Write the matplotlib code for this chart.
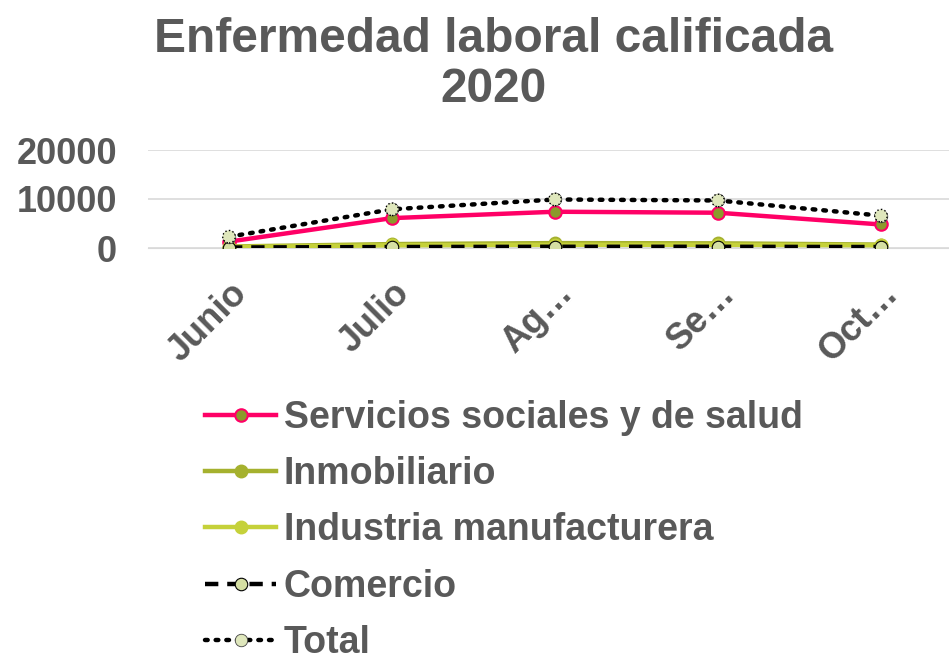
import matplotlib.pyplot as plt

plt.rcParams['font.family'] = ['Liberation Sans', 'DejaVu Sans']

meses = ['Junio', 'Julio', 'Ag…', 'Se…', 'Oct…']
servicios = [1300, 6100, 7400, 7200, 4800]
inmobiliario = [300, 800, 1000, 950, 700]
industria = [200, 550, 650, 650, 550]
comercio = [100, 200, 250, 250, 200]
total = [2300, 7900, 9900, 9700, 6600]

gris = '#595959'

fig = plt.figure(figsize=(9.49, 6.6), dpi=100)
ax = fig.add_axes([147.5 / 949, 1 - 248 / 660, 815 / 949, 98 / 660])
x = range(len(meses))

ax.plot(x, servicios, color='#FF0066', lw=3.2, marker='o', ms=9,
        mfc='#8C9A2B', mec='#FF0066', mew=1.5, label='Servicios sociales y de salud', zorder=3)
ax.plot(x, inmobiliario, color='#A5B12E', lw=3.2, marker='o', ms=9,
        mfc='#A5B12E', mec='#A5B12E', label='Inmobiliario', zorder=3)
ax.plot(x, industria, color='#C5D13A', lw=3.2, marker='o', ms=9,
        mfc='#C5D13A', mec='#C5D13A', label='Industria manufacturera', zorder=3)
ax.plot(x, comercio, color='black', lw=3.2, ls=(0, (3, 2)), marker='o', ms=9,
        mfc='#D5DFA3', mec='black', mew=0.8, label='Comercio', zorder=4)
ax.plot(x, total, color='black', lw=3.2, ls=(0, (0.6, 1.8)), dash_capstyle='round', marker='o', ms=9,
        mfc='#DFE7BC', mec='#444444', mew=0.6, label='Total', zorder=4)
# borde punteado de los marcadores del total
ax.scatter(x, total, s=81, facecolors='#DFE7BC', edgecolors='black', linewidths=1,
           linestyles=':', zorder=5)

ax.set_xlim(-0.5, 4.5)
ax.set_ylim(0, 20000)
ax.set_yticks([0, 10000, 20000])
ax.grid(axis='y', color='#D9D9D9', lw=1.2)
ax.set_axisbelow(True)
for s in ['top', 'right', 'left']:
    ax.spines[s].set_visible(False)
ax.spines['bottom'].set_color('#D9D9D9')
ax.tick_params(length=0, labelsize=26, labelcolor=gris)
ax.tick_params(axis='y', pad=22)
ax.tick_params(axis='x', pad=20)
ax.set_xticks(list(x))
ax.set_xticklabels(meses, rotation=45, ha='right', rotation_mode='anchor', fontweight='bold')
for t in ax.get_yticklabels():
    t.set_fontweight('bold')

fig.text(0.52, 0.975, 'Enfermedad laboral calificada\n2020', ha='center', va='top',
         fontsize=34.5, fontweight='bold', color=gris, linespacing=1.15)

leg = fig.legend(loc='upper left', bbox_to_anchor=(190 / 949, 1 - 385 / 660), frameon=False,
                 prop={'size': 27, 'weight': 'bold'}, handlelength=1.9, handletextpad=0.2,
                 labelspacing=0.54, borderaxespad=0, markerscale=1.0)
for t in leg.get_texts():
    t.set_color(gris)

fig.savefig('out.png', dpi=100)
